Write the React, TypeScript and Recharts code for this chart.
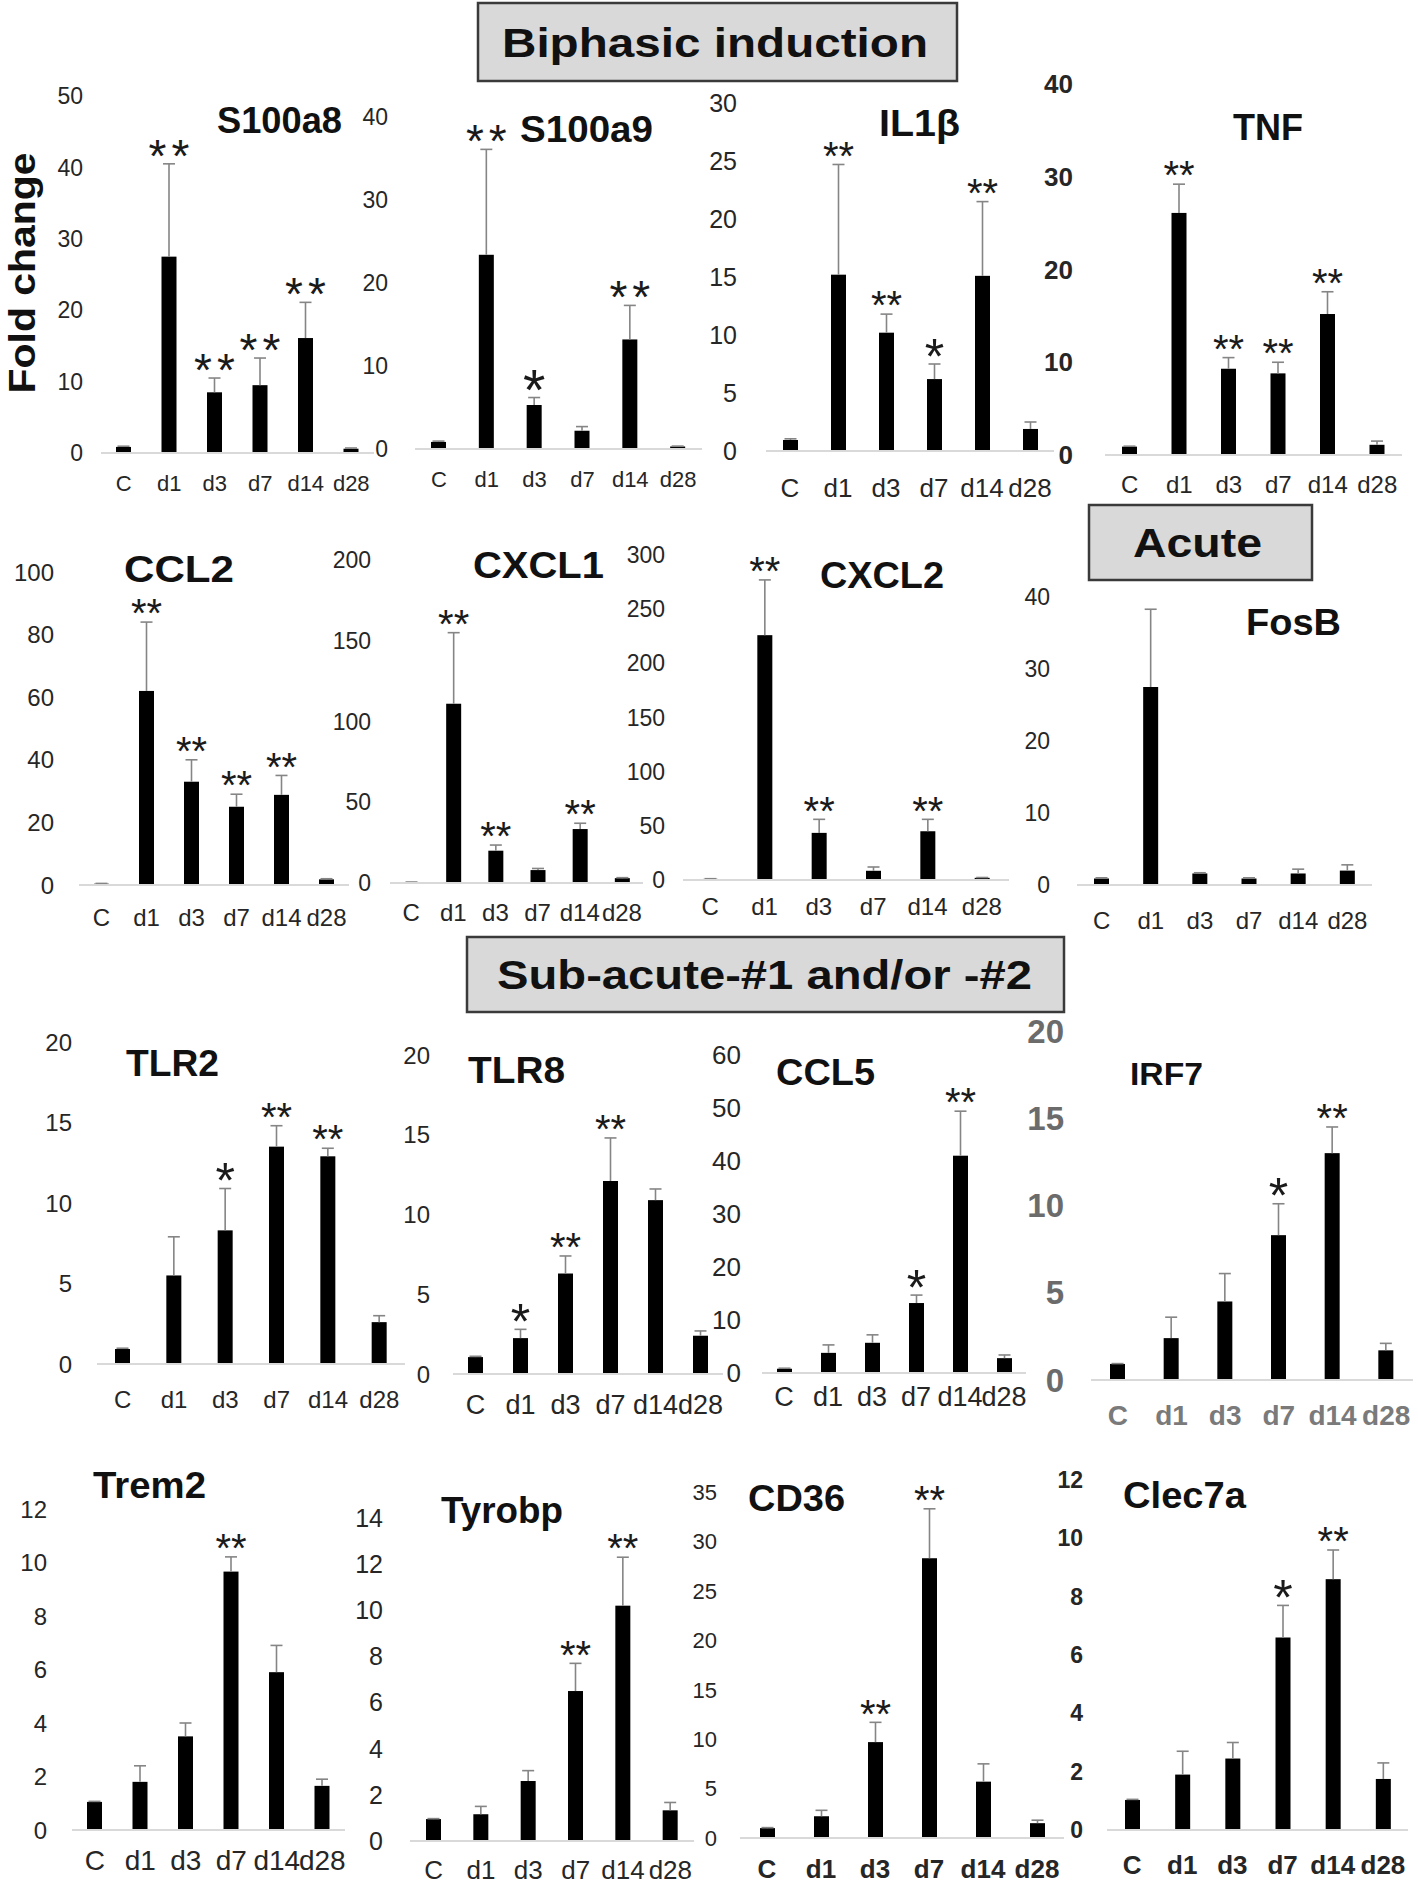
import { Bar, BarChart, XAxis, YAxis } from "recharts"

const FONT = "'Liberation Sans', Arial, sans-serif"

const days = ["C", "d1", "d3", "d7", "d14", "d28"]

// Biphasic induction
const s100a8Mean = [0.85, 27.5, 8.5, 9.5, 16.1, 0.6]
const s100a8Err = [0.1, 13.0, 2.0, 3.8, 5.0, 0.1]
const s100a8Sig = ["", "**", "**", "**", "**", ""]
const s100a8Ticks = [0, 10, 20, 30, 40, 50]

const s100a9Mean = [0.85, 23.4, 5.3, 2.2, 13.2, 0.3]
const s100a9Err = [0.1, 12.7, 0.9, 0.5, 4.1, 0.05]
const s100a9Sig = ["", "**", "*", "", "**", ""]
const s100a9Ticks = [0, 10, 20, 30, 40]

const il1bMean = [0.95, 15.2, 10.2, 6.2, 15.1, 1.9]
const il1bErr = [0.1, 9.5, 1.6, 1.3, 6.4, 0.6]
const il1bSig = ["", "**", "**", "*", "**", ""]
const il1bTicks = [0, 5, 10, 15, 20, 25, 30]

const tnfMean = [0.9, 26.1, 9.3, 8.8, 15.2, 1.1]
const tnfErr = [0.05, 3.1, 1.2, 1.2, 2.4, 0.4]
const tnfSig = ["", "**", "**", "**", "**", ""]
const tnfTicks = [0, 10, 20, 30, 40]

const ccl2Mean = [0.4, 62, 33, 25, 28.8, 1.8]
const ccl2Err = [0.1, 22, 7, 4, 6.2, 0.2]
const ccl2Sig = ["", "**", "**", "**", "**", ""]
const ccl2Ticks = [0, 20, 40, 60, 80, 100]

const cxcl1Mean = [0.5, 111, 20, 8, 33.4, 3]
const cxcl1Err = [0.1, 44, 3.5, 1, 3.6, 0.3]
const cxcl1Sig = ["", "**", "**", "", "**", ""]
const cxcl1Ticks = [0, 50, 100, 150, 200]

const cxcl2Mean = [1, 226, 43.5, 8.5, 45, 2]
const cxcl2Err = [0.2, 51, 12.5, 3.5, 11, 0.3]
const cxcl2Sig = ["", "**", "**", "", "**", ""]
const cxcl2Ticks = [0, 50, 100, 150, 200, 250, 300]

// Acute
const fosbMean = [0.9, 27.5, 1.6, 0.9, 1.6, 2.0]
const fosbErr = [0.1, 10.8, 0.1, 0.1, 0.6, 0.8]
const fosbSig = ["", "", "", "", "", ""]
const fosbTicks = [0, 10, 20, 30, 40]

// Sub-acute
const tlr2Mean = [0.93, 5.5, 8.3, 13.5, 12.9, 2.6]
const tlr2Err = [0.05, 2.4, 2.6, 1.3, 0.5, 0.4]
const tlr2Sig = ["", "", "*", "**", "**", ""]
const tlr2Ticks = [0, 5, 10, 15, 20]

const tlr8Mean = [1.06, 2.25, 6.3, 12.1, 10.9, 2.4]
const tlr8Err = [0.05, 0.55, 1.1, 2.7, 0.7, 0.3]
const tlr8Sig = ["", "*", "**", "**", "", ""]
const tlr8Ticks = [0, 5, 10, 15, 20]

const ccl5Mean = [0.8, 3.8, 5.7, 13.2, 41, 2.8]
const ccl5Err = [0.1, 1.5, 1.5, 1.5, 8.4, 0.6]
const ccl5Sig = ["", "", "", "*", "**", ""]
const ccl5Ticks = [0, 10, 20, 30, 40, 50, 60]

const irf7Mean = [0.92, 2.4, 4.5, 8.3, 13.0, 1.7]
const irf7Err = [0.02, 1.2, 1.6, 1.8, 1.5, 0.4]
const irf7Sig = ["", "", "", "*", "**", ""]
const irf7Ticks = [0, 5, 10, 15, 20]

const trem2Mean = [1.05, 1.8, 3.5, 9.66, 5.9, 1.65]
const trem2Err = [0.02, 0.6, 0.5, 0.55, 1.0, 0.25]
const trem2Sig = ["", "", "", "**", "", ""]
const trem2Ticks = [0, 2, 4, 6, 8, 10, 12]

const tyrobpMean = [0.95, 1.16, 2.6, 6.5, 10.2, 1.33]
const tyrobpErr = [0.02, 0.34, 0.45, 1.2, 2.1, 0.34]
const tyrobpSig = ["", "", "", "**", "**", ""]
const tyrobpTicks = [0, 2, 4, 6, 8, 10, 12, 14]

const cd36Mean = [1.0, 2.2, 9.7, 28.3, 5.7, 1.5]
const cd36Err = [0.05, 0.6, 2.0, 5.0, 1.8, 0.3]
const cd36Sig = ["", "", "**", "**", "", ""]
const cd36Ticks = [0, 5, 10, 15, 20, 25, 30, 35]

const clec7aMean = [1.03, 1.9, 2.45, 6.6, 8.6, 1.75]
const clec7aErr = [0.02, 0.8, 0.55, 1.1, 1.0, 0.55]
const clec7aSig = ["", "", "", "*", "**", ""]
const clec7aTicks = [0, 2, 4, 6, 8, 10, 12]

type Panel = {
  title: string
  mean: number[]
  err: number[]
  sig: string[]
  ticks: number[]
  x0: number
  x1: number
  yTop: number
  yBase: number
  tickRight: number
  tickFs: number
  tickBold?: boolean
  tickColor?: string
  xFs: number
  xBold?: boolean
  xColor?: string
  xLabelY: number
  title0: number
  title1: number
  titleY: number
  titleFs?: number
  starFs?: number
  starSpacing?: number
}

const panels: Panel[] = [
  { title: "S100a8", mean: s100a8Mean, err: s100a8Err, sig: s100a8Sig, ticks: s100a8Ticks,
    x0: 101, x1: 374, yTop: 96, yBase: 453, tickRight: 83, tickFs: 23, xFs: 22, xLabelY: 483,
    title0: 217, title1: 342, titleY: 120, starFs: 46, starSpacing: 5 },
  { title: "S100a9", mean: s100a9Mean, err: s100a9Err, sig: s100a9Sig, ticks: s100a9Ticks,
    x0: 415, x1: 702, yTop: 117, yBase: 449, tickRight: 388, tickFs: 23, xFs: 22, xLabelY: 479,
    title0: 520, title1: 653, titleY: 129, starFs: 46, starSpacing: 5 },
  { title: "IL1β", mean: il1bMean, err: il1bErr, sig: il1bSig, ticks: il1bTicks,
    x0: 766, x1: 1054, yTop: 103, yBase: 451, tickRight: 737, tickFs: 25, xFs: 26, xLabelY: 488,
    title0: 879, title1: 960, titleY: 123 },
  { title: "TNF", mean: tnfMean, err: tnfErr, sig: tnfSig, ticks: tnfTicks,
    x0: 1105, x1: 1402, yTop: 84, yBase: 455, tickRight: 1073, tickFs: 26, tickBold: true, xFs: 24, xLabelY: 485,
    title0: 1233, title1: 1303, titleY: 127 },
  { title: "CCL2", mean: ccl2Mean, err: ccl2Err, sig: ccl2Sig, ticks: ccl2Ticks,
    x0: 79, x1: 349, yTop: 572, yBase: 885, tickRight: 54, tickFs: 24, xFs: 24, xLabelY: 918,
    title0: 124, title1: 234, titleY: 569 },
  { title: "CXCL1", mean: cxcl1Mean, err: cxcl1Err, sig: cxcl1Sig, ticks: cxcl1Ticks,
    x0: 390, x1: 643, yTop: 560, yBase: 883, tickRight: 371, tickFs: 23, xFs: 24, xLabelY: 913,
    title0: 473, title1: 604, titleY: 565 },
  { title: "CXCL2", mean: cxcl2Mean, err: cxcl2Err, sig: cxcl2Sig, ticks: cxcl2Ticks,
    x0: 683, x1: 1009, yTop: 555, yBase: 880, tickRight: 665, tickFs: 23, xFs: 24, xLabelY: 907,
    title0: 820, title1: 944, titleY: 575 },
  { title: "FosB", mean: fosbMean, err: fosbErr, sig: fosbSig, ticks: fosbTicks,
    x0: 1077, x1: 1372, yTop: 597, yBase: 885, tickRight: 1050, tickFs: 23, xFs: 24, xLabelY: 921,
    title0: 1246, title1: 1341, titleY: 622 },
  { title: "TLR2", mean: tlr2Mean, err: tlr2Err, sig: tlr2Sig, ticks: tlr2Ticks,
    x0: 97, x1: 405, yTop: 1042, yBase: 1364, tickRight: 72, tickFs: 24, xFs: 24, xLabelY: 1400,
    title0: 126, title1: 219, titleY: 1063 },
  { title: "TLR8", mean: tlr8Mean, err: tlr8Err, sig: tlr8Sig, ticks: tlr8Ticks,
    x0: 453, x1: 723, yTop: 1055, yBase: 1374, tickRight: 430, tickFs: 24, xFs: 27, xLabelY: 1405,
    title0: 468, title1: 565, titleY: 1070 },
  { title: "CCL5", mean: ccl5Mean, err: ccl5Err, sig: ccl5Sig, ticks: ccl5Ticks,
    x0: 762, x1: 1026, yTop: 1055, yBase: 1373, tickRight: 741, tickFs: 26, xFs: 27, xLabelY: 1397,
    title0: 776, title1: 875, titleY: 1072 },
  { title: "IRF7", mean: irf7Mean, err: irf7Err, sig: irf7Sig, ticks: irf7Ticks,
    x0: 1091, x1: 1413, yTop: 1031, yBase: 1380, tickRight: 1064, tickFs: 33, tickBold: true, tickColor: "#6b6b6b",
    xFs: 28, xBold: true, xColor: "#7a7a7a", xLabelY: 1415, title0: 1130, title1: 1203, titleY: 1074, titleFs: 32 },
  { title: "Trem2", mean: trem2Mean, err: trem2Err, sig: trem2Sig, ticks: trem2Ticks,
    x0: 72, x1: 345, yTop: 1509, yBase: 1830, tickRight: 47, tickFs: 24, xFs: 28, xLabelY: 1860,
    title0: 93, title1: 206, titleY: 1485 },
  { title: "Tyrobp", mean: tyrobpMean, err: tyrobpErr, sig: tyrobpSig, ticks: tyrobpTicks,
    x0: 410, x1: 694, yTop: 1518, yBase: 1841, tickRight: 383, tickFs: 25, xFs: 26, xLabelY: 1870,
    title0: 441, title1: 563, titleY: 1510 },
  { title: "CD36", mean: cd36Mean, err: cd36Err, sig: cd36Sig, ticks: cd36Ticks,
    x0: 740, x1: 1064, yTop: 1492, yBase: 1838, tickRight: 717, tickFs: 22, xFs: 26, xBold: true, xLabelY: 1869,
    title0: 748, title1: 845, titleY: 1498 },
  { title: "Clec7a", mean: clec7aMean, err: clec7aErr, sig: clec7aSig, ticks: clec7aTicks,
    x0: 1107, x1: 1408, yTop: 1480, yBase: 1830, tickRight: 1083, tickFs: 23, tickBold: true, xFs: 26, xBold: true, xLabelY: 1865,
    title0: 1123, title1: 1246, titleY: 1495 },
]

const headers = [
  { text: "Biphasic induction", box: [478, 3, 957, 81], text0: 502, text1: 928, cy: 43 },
  { text: "Acute", box: [1089, 505, 1312, 580], text0: 1133, text1: 1262, cy: 543 },
  { text: "Sub-acute-#1 and/or -#2", box: [467, 937, 1064, 1012], text0: 497, text1: 1032, cy: 975 },
]

function WhiskerBar(props: any) {
  const { x, y, width, height, payload, starFs = 40, starSpacing = 0 } = props
  if (x == null || y == null) return null
  const perUnit = payload.mean > 0 ? height / payload.mean : 0
  const top = y - payload.err * perUnit
  const cx = x + width / 2
  const single = payload.sig === "*"
  const fs = single ? starFs * 1.25 : starFs
  return (
    <g>
      <rect x={x} y={y} width={width} height={height} fill="#000" />
      <line x1={cx} x2={cx} y1={y} y2={top} stroke="#858585" strokeWidth={1.6} />
      <line x1={cx - 6} x2={cx + 6} y1={top} y2={top} stroke="#858585" strokeWidth={1.6} />
      {payload.sig ? (
        <text
          x={cx + (single ? 0 : starSpacing / 2)}
          y={top - 12 + 0.43 * fs}
          textAnchor="middle"
          fontSize={fs}
          fontFamily={FONT}
          letterSpacing={single ? 0 : starSpacing}
          fill="#1a1a1a"
        >
          {payload.sig}
        </text>
      ) : null}
    </g>
  )
}

function GenePanel({ p }: { p: Panel }) {
  const rows = days.map((day, i) => ({ day, mean: p.mean[i], err: p.err[i], sig: p.sig[i] }))
  const yAxisW = p.x0 - p.tickRight + 52
  const left = p.x0 - yAxisW
  const top = p.yTop - 40
  const width = p.x1 - left + 10
  const xAxisH = 62
  const height = p.yBase - top + xAxisH + 5
  const max = p.ticks[p.ticks.length - 1]

  return (
    <div style={{ position: "absolute", left, top }}>
      <BarChart width={width} height={height} data={rows} margin={{ top: 40, right: 10, bottom: 5, left: 0 }}>
        <XAxis
          dataKey="day"
          interval={0}
          height={xAxisH}
          tickLine={false}
          tickSize={0}
          tickMargin={p.xLabelY - 0.36 * p.xFs - p.yBase}
          axisLine={{ stroke: "#d9d9d9", strokeWidth: 2 }}
          tick={{ fontSize: p.xFs, fontFamily: FONT, fontWeight: p.xBold ? "bold" : "normal", fill: p.xColor ?? "#262626" }}
        />
        <YAxis
          type="number"
          domain={[0, max]}
          ticks={p.ticks}
          width={yAxisW}
          axisLine={false}
          tickLine={false}
          tickSize={0}
          tickMargin={p.x0 - p.tickRight}
          tick={{ fontSize: p.tickFs, fontFamily: FONT, fontWeight: p.tickBold ? "bold" : "normal", fill: p.tickColor ?? "#262626" }}
        />
        <Bar
          dataKey="mean"
          barSize={15}
          isAnimationActive={false}
          shape={(props: any) => <WhiskerBar {...props} starFs={p.starFs ?? 40} starSpacing={p.starSpacing ?? 0} />}
        />
      </BarChart>
    </div>
  )
}

export default function App() {
  return (
    <div style={{ position: "absolute", left: 0, top: 0, width: 1418, height: 1886, background: "#fff", overflow: "hidden" }}>
      {panels.map((p) => (
        <GenePanel key={p.title} p={p} />
      ))}
      <svg width={1418} height={1886} style={{ position: "absolute", left: 0, top: 0, pointerEvents: "none" }}>
        {headers.map((h) => (
          <g key={h.text}>
            <rect x={h.box[0]} y={h.box[1]} width={h.box[2] - h.box[0]} height={h.box[3] - h.box[1]} fill="#d9d9d9" stroke="#3a3a3a" strokeWidth={2.5} />
            <text
              x={h.text0}
              y={h.cy + 0.358 * 40}
              fontSize={40}
              fontWeight="bold"
              fontFamily={FONT}
              textLength={h.text1 - h.text0}
              lengthAdjust="spacingAndGlyphs"
              fill="#111"
            >
              {h.text}
            </text>
          </g>
        ))}
        {panels.map((p) => {
          const fs = p.titleFs ?? 36
          return (
            <text
              key={p.title}
              x={p.title0}
              y={p.titleY + 0.358 * fs}
              fontSize={fs}
              fontWeight="bold"
              fontFamily={FONT}
              textLength={p.title1 - p.title0}
              lengthAdjust="spacingAndGlyphs"
              fill="#111"
            >
              {p.title}
            </text>
          )
        })}
        <text
          transform="translate(35, 273) rotate(-90)"
          textAnchor="middle"
          fontSize={37}
          fontWeight="bold"
          fontFamily={FONT}
          textLength={241}
          lengthAdjust="spacingAndGlyphs"
          fill="#111"
        >
          Fold change
        </text>
      </svg>
    </div>
  )
}
